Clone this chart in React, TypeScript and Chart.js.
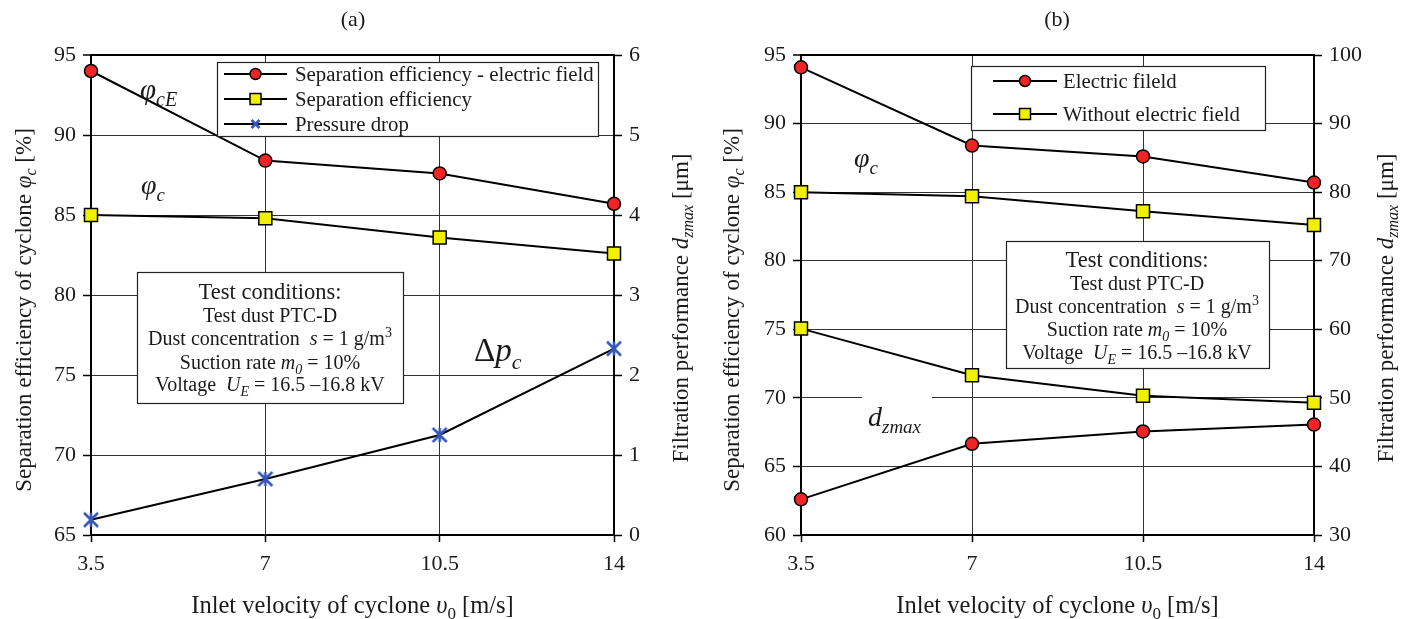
import React, { useEffect, useRef } from 'react';
import { Chart, registerables } from 'chart.js';

Chart.register(...registerables);

// ---------------- data ----------------
const velocity = [3.5, 7, 10.5, 14];
const xTicks = [3.5, 7, 10.5, 14];

// panel (a)
const aEffElectric = [94.0, 88.4, 87.6, 85.7];
const aEff = [85.0, 84.8, 83.6, 82.6];
const aPressureDrop = [0.19, 0.7, 1.25, 2.33];
const aLeftTicks = [65, 70, 75, 80, 85, 90, 95];
const aRightTicks = [0, 1, 2, 3, 4, 5, 6];
const aLegend = ['Separation efficiency - electric field', 'Separation efficiency', 'Pressure drop'];

// panel (b)
const bEffElectric = [94.1, 88.4, 87.6, 85.7];
const bEff = [85.0, 84.7, 83.6, 82.6];
const bDzElectric = [35.2, 43.3, 45.1, 46.1];
const bDz = [60.1, 53.3, 50.3, 49.3];
const bLeftTicks = [60, 65, 70, 75, 80, 85, 90, 95];
const bRightTicks = [30, 40, 50, 60, 70, 80, 90, 100];
const bLegend = ['Electric fileld', 'Without electric field'];

// ---------------- styles ----------------
const FONT = '"Liberation Serif", "Times New Roman", Times, serif';
const TEXT = '#1a1a1a';
const RED = '#f02424';
const YELLOW = '#f0f000';
const BLUE = '#3557b7';
const GRID = '#333333';
const W = 704;
const H = 619;

type Seg = { t: string; it?: boolean; sub?: boolean; sup?: boolean };

function fontFor(s: Seg, size: number) {
  const sz = s.sub || s.sup ? Math.round(size * 0.68) : size;
  return `${s.it ? 'italic ' : ''}${sz}px ${FONT}`;
}
function richWidth(ctx: CanvasRenderingContext2D, segs: Seg[], size: number) {
  let w = 0;
  for (const s of segs) {
    ctx.font = fontFor(s, size);
    w += ctx.measureText(s.t).width;
  }
  return w;
}
function drawRich(ctx: CanvasRenderingContext2D, segs: Seg[], x: number, cy: number, size: number, align = 'center', color = TEXT) {
  ctx.save();
  ctx.fillStyle = color;
  ctx.textAlign = 'left';
  ctx.textBaseline = 'alphabetic';
  const w = richWidth(ctx, segs, size);
  let cx = align === 'center' ? x - w / 2 : align === 'right' ? x - w : x;
  const base = cy + size * 0.33;
  for (const s of segs) {
    ctx.font = fontFor(s, size);
    const dy = s.sub ? size * 0.25 : s.sup ? -size * 0.38 : 0;
    ctx.fillText(s.t, cx, base + dy);
    cx += ctx.measureText(s.t).width;
  }
  ctx.restore();
}
function drawRichRot(ctx: CanvasRenderingContext2D, segs: Seg[], cx: number, cy: number, size: number) {
  ctx.save();
  ctx.translate(cx, cy);
  ctx.rotate(-Math.PI / 2);
  drawRich(ctx, segs, 0, 0, size, 'center');
  ctx.restore();
}

let starCache: HTMLCanvasElement | null = null;
function starMarker() {
  if (starCache) return starCache;
  const c = document.createElement('canvas');
  c.width = 20;
  c.height = 20;
  const g = c.getContext('2d')!;
  g.strokeStyle = BLUE;
  g.lineWidth = 2.6;
  g.lineCap = 'butt';
  g.beginPath();
  g.moveTo(3, 3); g.lineTo(17, 17);
  g.moveTo(17, 3); g.lineTo(3, 17);
  g.moveTo(10, 3); g.lineTo(10, 17);
  g.stroke();
  starCache = c;
  return c;
}

type Marker = 'circle' | 'square' | 'star';
function drawMarker(ctx: CanvasRenderingContext2D, m: Marker, x: number, y: number) {
  ctx.save();
  if (m === 'circle') {
    ctx.beginPath();
    ctx.arc(x, y, 5.5, 0, Math.PI * 2);
    ctx.fillStyle = RED;
    ctx.fill();
    ctx.lineWidth = 1.5;
    ctx.strokeStyle = '#000';
    ctx.stroke();
  } else if (m === 'square') {
    const h = 5.5;
    ctx.fillStyle = YELLOW;
    ctx.fillRect(x - h, y - h, 2 * h, 2 * h);
    ctx.lineWidth = 1.5;
    ctx.strokeStyle = '#000';
    ctx.strokeRect(x - h, y - h, 2 * h, 2 * h);
  } else {
    ctx.strokeStyle = BLUE;
    ctx.lineWidth = 2.8;
    const h = 4;
    ctx.beginPath();
    ctx.moveTo(x - h, y - h); ctx.lineTo(x + h, y + h);
    ctx.moveTo(x + h, y - h); ctx.lineTo(x - h, y + h);
    ctx.stroke();
  }
  ctx.restore();
}

function box(ctx: CanvasRenderingContext2D, x1: number, y1: number, x2: number, y2: number, stroke = true) {
  ctx.save();
  ctx.fillStyle = '#fff';
  ctx.fillRect(x1, y1, x2 - x1, y2 - y1);
  if (stroke) {
    ctx.strokeStyle = '#222';
    ctx.lineWidth = 1.2;
    ctx.strokeRect(x1 + 0.5, y1 + 0.5, x2 - x1, y2 - y1);
  }
  ctx.restore();
}

const testLines: Seg[][] = [
  [{ t: 'Test conditions:' }],
  [{ t: 'Test dust PTC-D' }],
  [{ t: 'Dust concentration  ' }, { t: 's', it: true }, { t: ' = 1 g/m' }, { t: '3', sup: true }],
  [{ t: 'Suction rate ' }, { t: 'm', it: true }, { t: '0', it: true, sub: true }, { t: ' = 10%' }],
  [{ t: 'Voltage  ' }, { t: 'U', it: true }, { t: 'E', it: true, sub: true }, { t: ' = 16.5 \u201316.8 kV' }],
];
const testSizes = [22.5, 20, 20, 20, 20];

const leftTitle: Seg[] = [{ t: 'Separation efficiency of cyclone ' }, { t: '\u03c6', it: true }, { t: 'c', it: true, sub: true }, { t: ' [%]' }];
const rightTitle: Seg[] = [{ t: 'Filtration performance ' }, { t: 'd', it: true }, { t: 'zmax', it: true, sub: true }, { t: ' [\u03bcm]' }];
const xTitle: Seg[] = [{ t: 'Inlet velocity of cyclone ' }, { t: '\u03c5', it: true }, { t: '0', sub: true }, { t: ' [m/s]' }];

type DS = { label: string; data: number[]; axis: 'y' | 'y2'; marker: Marker };
type Annot = { segs: Seg[]; x: number; y: number; size: number };
type Spec = {
  offset: number;
  title: string;
  left: number;
  right: number;
  yTicks: number[];
  y2Ticks: number[];
  datasets: DS[];
  legendBox: [number, number, number, number];
  legendRows: number[];
  legendLine: [number, number];
  legendText: number;
  testBox: [number, number, number, number];
  testCenter: number;
  testRows: number[];
  annots: Annot[];
  whiteBoxes: [number, number, number, number][];
  leftTitleX: number;
  rightTitleX: number;
};

function buildConfig(spec: Spec): any {
  const yMin = spec.yTicks[0];
  const yMax = spec.yTicks[spec.yTicks.length - 1];
  const tickFont = { family: FONT, size: 22 };
  const legendItems = spec.datasets.filter((d) => d.label !== '');
  const overlay = {
    id: 'overlay',
    afterDraw(chart: any) {
      const ctx: CanvasRenderingContext2D = chart.ctx;
      for (const b of spec.whiteBoxes) box(ctx, b[0], b[1], b[2], b[3], false);
      // legend
      const lb = spec.legendBox;
      box(ctx, lb[0], lb[1], lb[2], lb[3]);
      legendItems.forEach((d, i) => {
        const y = spec.legendRows[i];
        ctx.save();
        ctx.strokeStyle = '#000';
        ctx.lineWidth = 2;
        ctx.beginPath();
        ctx.moveTo(spec.legendLine[0], y);
        ctx.lineTo(spec.legendLine[1], y);
        ctx.stroke();
        ctx.restore();
        drawMarker(ctx, d.marker, (spec.legendLine[0] + spec.legendLine[1]) / 2, y);
        drawRich(ctx, [{ t: d.label }], spec.legendText, y, 20.8, 'left');
      });
      // test conditions
      const tb = spec.testBox;
      box(ctx, tb[0], tb[1], tb[2], tb[3]);
      testLines.forEach((l, i) => drawRich(ctx, l, spec.testCenter, spec.testRows[i], testSizes[i], 'center'));
      // annotations
      for (const a of spec.annots) drawRich(ctx, a.segs, a.x, a.y, a.size, 'left');
      // titles
      drawRich(ctx, [{ t: spec.title }], 353, 19, 22, 'center');
      drawRich(ctx, xTitle, (spec.left + spec.right) / 2, 605, 24.5, 'center');
      drawRichRot(ctx, leftTitle, spec.leftTitleX, 310, 23);
      drawRichRot(ctx, rightTitle, spec.rightTitleX, 308, 23);
    },
  };

  const datasets = spec.datasets.map((d) => {
    const base: any = {
      label: d.label,
      data: velocity.map((x, i) => ({ x, y: d.data[i] })),
      yAxisID: d.axis,
      borderColor: '#000',
      borderWidth: 2,
      tension: 0,
      clip: false,
      pointBorderColor: '#000',
      pointBorderWidth: 1.5,
    };
    if (d.marker === 'circle') {
      base.pointStyle = 'circle';
      base.pointRadius = 6.5;
      base.pointBackgroundColor = RED;
    } else if (d.marker === 'square') {
      base.pointStyle = 'rect';
      base.pointRadius = 9.2;
      base.pointBackgroundColor = YELLOW;
    } else {
      base.pointStyle = starMarker();
      base.pointRadius = 10;
    }
    return base;
  });

  return {
    type: 'line',
    data: { datasets },
    plugins: [overlay],
    options: {
      responsive: false,
      animation: false,
      devicePixelRatio: 1,
      layout: { padding: { top: 55, left: 0, right: 0, bottom: 0 } },
      plugins: { legend: { display: false }, tooltip: { enabled: false }, title: { display: false } },
      scales: {
        x: {
          type: 'linear',
          min: xTicks[0],
          max: xTicks[xTicks.length - 1],
          afterBuildTicks: (s: any) => { s.ticks = xTicks.map((v) => ({ value: v })); },
          afterFit: (s: any) => { s.height = H - 535; },
          grid: { color: GRID, lineWidth: 1, tickLength: 7, tickColor: '#000', tickWidth: 1.5 },
          border: { color: '#000', width: 2 },
          ticks: { font: tickFont, color: TEXT, padding: 9, maxRotation: 0, autoSkip: false, callback: (v: any) => String(v) },
        },
        y: {
          position: 'left',
          min: yMin,
          max: yMax,
          afterBuildTicks: (s: any) => { s.ticks = spec.yTicks.map((v) => ({ value: v })); },
          afterFit: (s: any) => { s.width = spec.left; },
          grid: {
            color: (c: any) => (c.tick && c.tick.value === yMax ? '#000' : GRID),
            lineWidth: (c: any) => (c.tick && c.tick.value === yMax ? 2 : 1),
            tickLength: 8,
            tickColor: '#000',
            tickWidth: 1.5,
          },
          border: { color: '#000', width: 2 },
          ticks: { font: tickFont, color: TEXT, padding: 7, autoSkip: false },
        },
        y2: {
          position: 'right',
          min: spec.y2Ticks[0],
          max: spec.y2Ticks[spec.y2Ticks.length - 1],
          afterBuildTicks: (s: any) => { s.ticks = spec.y2Ticks.map((v) => ({ value: v })); },
          afterFit: (s: any) => { s.width = W - spec.right; },
          grid: { drawOnChartArea: false, color: '#000', tickLength: 8, tickColor: '#000', tickWidth: 1.5 },
          border: { color: '#000', width: 2 },
          ticks: { font: tickFont, color: TEXT, padding: 7, autoSkip: false },
        },
      },
    },
  };
}

const specA: Spec = {
  offset: 0,
  title: '(a)',
  left: 91,
  right: 614,
  yTicks: aLeftTicks,
  y2Ticks: aRightTicks,
  datasets: [
    { label: aLegend[0], data: aEffElectric, axis: 'y', marker: 'circle' },
    { label: aLegend[1], data: aEff, axis: 'y', marker: 'square' },
    { label: aLegend[2], data: aPressureDrop, axis: 'y2', marker: 'star' },
  ],
  legendBox: [217, 62, 598, 136],
  legendRows: [74, 99, 124],
  legendLine: [224, 287],
  legendText: 295,
  testBox: [137, 272, 403, 403],
  testCenter: 270,
  testRows: [292, 315, 338, 362, 384],
  annots: [
    { segs: [{ t: '\u03c6', it: true }, { t: 'cE', it: true, sub: true }], x: 140, y: 89, size: 29 },
    { segs: [{ t: '\u03c6', it: true }, { t: 'c', it: true, sub: true }], x: 141, y: 185, size: 28 },
    { segs: [{ t: '\u0394' }, { t: 'p', it: true }, { t: 'c', it: true, sub: true }], x: 474, y: 350, size: 33 },
  ],
  whiteBoxes: [],
  leftTitleX: 23,
  rightTitleX: 680,
};

const specB: Spec = {
  offset: 704,
  title: '(b)',
  left: 97,
  right: 610,
  yTicks: bLeftTicks,
  y2Ticks: bRightTicks,
  datasets: [
    { label: bLegend[0], data: bEffElectric, axis: 'y', marker: 'circle' },
    { label: bLegend[1], data: bEff, axis: 'y', marker: 'square' },
    { label: '', data: bDzElectric, axis: 'y2', marker: 'circle' },
    { label: '', data: bDz, axis: 'y2', marker: 'square' },
  ],
  legendBox: [267, 66, 561, 130],
  legendRows: [81, 114],
  legendLine: [289, 353],
  legendText: 359,
  testBox: [302, 241, 565, 368],
  testCenter: 433,
  testRows: [260, 283, 306, 329, 352],
  annots: [
    { segs: [{ t: '\u03c6', it: true }, { t: 'c', it: true, sub: true }], x: 150, y: 158, size: 28 },
    { segs: [{ t: 'd', it: true }, { t: 'zmax', it: true, sub: true }], x: 164, y: 417, size: 28 },
  ],
  whiteBoxes: [[158, 388, 228, 440]],
  leftTitleX: 27,
  rightTitleX: 681,
};

function Panel({ spec }: { spec: Spec }) {
  const ref = useRef<HTMLCanvasElement>(null);
  useEffect(() => {
    const chart = new Chart(ref.current!, buildConfig(spec));
    return () => chart.destroy();
  }, [spec]);
  return (
    <canvas
      ref={ref}
      width={W}
      height={H}
      style={{ position: 'absolute', left: spec.offset, top: 0, width: W, height: H }}
    />
  );
}

export default function App() {
  return (
    <div style={{ position: 'absolute', left: 0, top: 0, width: 1408, height: 619, background: '#fff', overflow: 'hidden' }}>
      <Panel spec={specA} />
      <Panel spec={specB} />
    </div>
  );
}
